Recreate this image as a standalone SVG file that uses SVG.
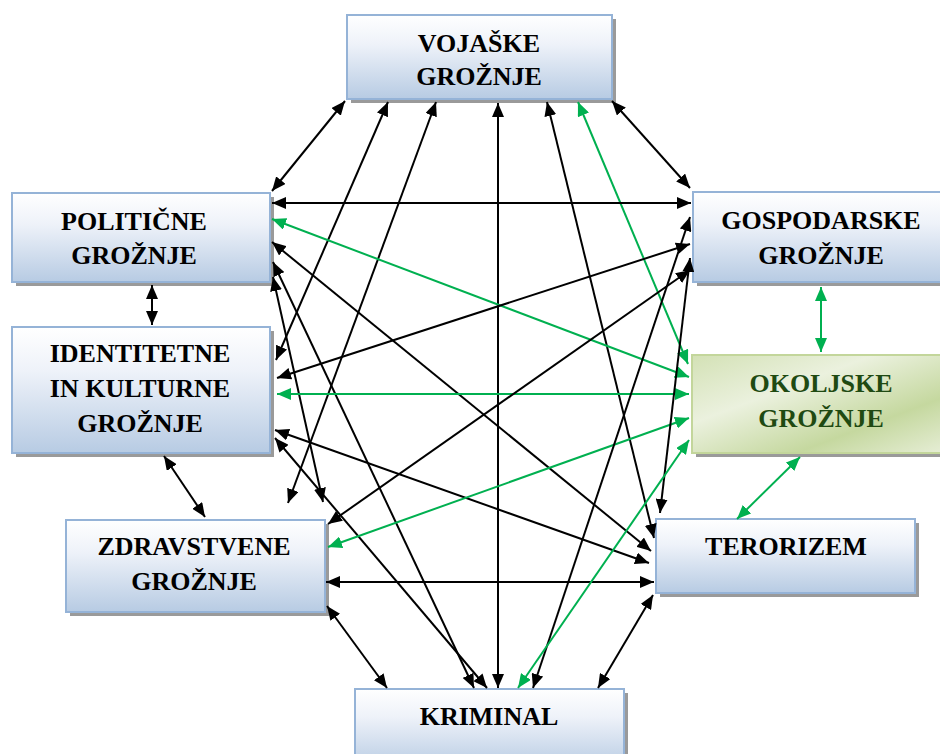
<svg xmlns="http://www.w3.org/2000/svg" width="940" height="754" viewBox="0 0 940 754">
<defs>
<linearGradient id="gBlue" x1="0" y1="0" x2="0" y2="1">
<stop offset="0" stop-color="#ffffff"/>
<stop offset="0.35" stop-color="#eef2f9"/>
<stop offset="1" stop-color="#b7cbe3"/>
</linearGradient>
<linearGradient id="gGreen" x1="0" y1="0" x2="1" y2="1">
<stop offset="0" stop-color="#d3e1b5"/>
<stop offset="0.35" stop-color="#ebf1de"/>
<stop offset="0.7" stop-color="#c5d89f"/>
<stop offset="1" stop-color="#e8efd9"/>
</linearGradient>
<marker id="ab" viewBox="0 0 14 12" refX="14" refY="6" markerWidth="14" markerHeight="12" markerUnits="userSpaceOnUse" orient="auto-start-reverse">
<path d="M0,0 L14,6 L0,12 z" fill="#000"/>
</marker>
<marker id="ag" viewBox="0 0 14 12" refX="14" refY="6" markerWidth="14" markerHeight="12" markerUnits="userSpaceOnUse" orient="auto-start-reverse">
<path d="M0,0 L14,6 L0,12 z" fill="#00b050"/>
</marker>
</defs>
<style>
.sh{fill:#9a9a9a}
.box{fill:url(#gBlue);stroke:#95b3d7;stroke-width:2}
.gbox{fill:url(#gGreen);stroke:#c3d69b;stroke-width:2}
text{font-family:'Liberation Serif','Times New Roman','DejaVu Serif',serif;font-weight:bold;font-size:26px;fill:#000;text-anchor:middle}
.tg{fill:#1f4a12}
.k{stroke:#000;stroke-width:2;fill:none;marker-start:url(#ab);marker-end:url(#ab)}
.g{stroke:#00b050;stroke-width:2;fill:none;marker-start:url(#ag);marker-end:url(#ag)}
</style>
<rect width="940" height="754" fill="#fff"/>

<g id="vojaske">
<rect class="sh" x="351" y="19" width="265" height="84"/>
<rect class="box" x="347" y="15" width="265" height="84"/>
<text font-family="Liberation Serif, serif" x="479" y="52">VOJAŠKE</text>
<text font-family="Liberation Serif, serif" x="479" y="85">GROŽNJE</text>
</g>
<g id="politicne">
<rect class="sh" x="16" y="197" width="258" height="89"/>
<rect class="box" x="12" y="193" width="258" height="89"/>
<text font-family="Liberation Serif, serif" x="134" y="230">POLITIČNE</text>
<text font-family="Liberation Serif, serif" x="134" y="264">GROŽNJE</text>
</g>
<g id="gospodarske">
<rect class="sh" x="697" y="196" width="260" height="90"/>
<rect class="box" x="693" y="192" width="260" height="90"/>
<text font-family="Liberation Serif, serif" x="821" y="229">GOSPODARSKE</text>
<text font-family="Liberation Serif, serif" x="821" y="264">GROŽNJE</text>
</g>
<g id="identitetne">
<rect class="sh" x="16" y="331" width="258" height="126"/>
<rect class="box" x="12" y="327" width="258" height="126"/>
<text font-family="Liberation Serif, serif" x="140" y="362">IDENTITETNE</text>
<text font-family="Liberation Serif, serif" x="140" y="397">IN KULTURNE</text>
<text font-family="Liberation Serif, serif" x="140" y="432">GROŽNJE</text>
</g>
<g id="okoljske">
<rect class="sh" x="696" y="359" width="260" height="98"/>
<rect class="gbox" x="692" y="355" width="260" height="98"/>
<text class="tg" font-family="Liberation Serif, serif" x="821" y="392">OKOLJSKE</text>
<text class="tg" font-family="Liberation Serif, serif" x="821" y="427">GROŽNJE</text>
</g>
<g id="zdravstvene">
<rect class="sh" x="70" y="524" width="259" height="92"/>
<rect class="box" x="66" y="520" width="259" height="92"/>
<text font-family="Liberation Serif, serif" x="194" y="555">ZDRAVSTVENE</text>
<text font-family="Liberation Serif, serif" x="194" y="590">GROŽNJE</text>
</g>
<g id="terorizem">
<rect class="sh" x="660" y="523" width="259" height="74"/>
<rect class="box" x="656" y="519" width="259" height="74"/>
<text font-family="Liberation Serif, serif" x="786" y="555">TERORIZEM</text>
</g>
<g id="kriminal">
<rect class="sh" x="359" y="693" width="269" height="80"/>
<rect class="box" x="355" y="689" width="269" height="80"/>
<text font-family="Liberation Serif, serif" x="489" y="725">KRIMINAL</text>
</g>

<g id="connectors">
<line class="k" x1="345" y1="101" x2="272" y2="191"/>
<line class="k" x1="388" y1="102" x2="276" y2="360"/>
<line class="k" x1="436" y1="102" x2="288" y2="503"/>
<line class="k" x1="498" y1="103" x2="498" y2="688"/>
<line class="k" x1="547" y1="102" x2="654" y2="538"/>
<line class="g" x1="578" y1="102" x2="688" y2="364"/>
<line class="k" x1="612" y1="101" x2="690" y2="188"/>
<line class="k" x1="272" y1="203" x2="691" y2="203"/>
<line class="g" x1="272" y1="219" x2="689" y2="377"/>
<line class="k" x1="272" y1="242" x2="651" y2="551"/>
<line class="k" x1="273" y1="262" x2="474" y2="688"/>
<line class="k" x1="273" y1="277" x2="323" y2="502"/>
<line class="k" x1="152" y1="285" x2="152" y2="325"/>
<line class="k" x1="277" y1="378" x2="690" y2="244"/>
<line class="g" x1="277" y1="394" x2="689" y2="394"/>
<line class="k" x1="275" y1="430" x2="649" y2="563"/>
<line class="k" x1="275" y1="438" x2="487" y2="688"/>
<line class="k" x1="164" y1="456" x2="205" y2="517"/>
<line class="k" x1="328" y1="524" x2="690" y2="270"/>
<line class="g" x1="328" y1="547" x2="689" y2="418"/>
<line class="k" x1="326" y1="582" x2="654" y2="582"/>
<line class="k" x1="327" y1="606" x2="387" y2="688"/>
<line class="k" x1="690" y1="217" x2="533" y2="688"/>
<line class="k" x1="690" y1="258" x2="660" y2="513"/>
<line class="g" x1="821" y1="287" x2="821" y2="352"/>
<line class="g" x1="800" y1="457" x2="737" y2="519"/>
<line class="g" x1="689" y1="440" x2="518" y2="688"/>
<line class="k" x1="653" y1="595" x2="598" y2="688"/>
</g>
</svg>
